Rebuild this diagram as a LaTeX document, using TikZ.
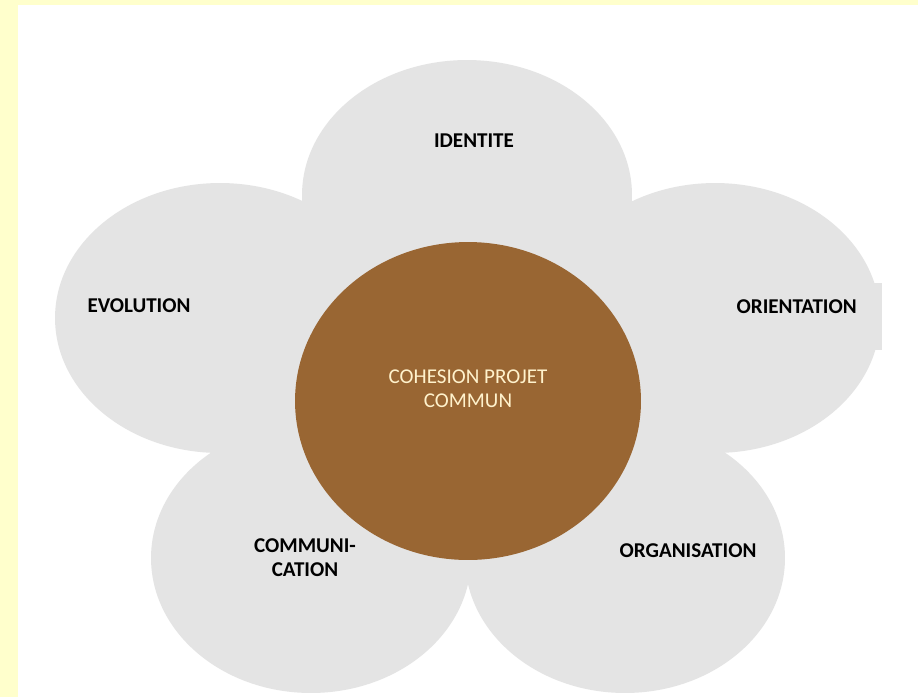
\documentclass[tikz,border=0pt]{standalone}
\usepackage{fontspec}
\setmainfont{Carlito}
\usetikzlibrary{shapes.geometric}
\definecolor{petal}{HTML}{E4E4E4}
\definecolor{coeur}{HTML}{996633}
\definecolor{cream}{HTML}{FFF2CC}
\definecolor{frame}{HTML}{FFFFCC}

\begin{document}
\begin{tikzpicture}[x=0.02cm, y=-0.02cm,
	petal/.style={shape=ellipse, fill=petal, inner sep=0pt, minimum width=6.6cm, minimum height=5.4cm},
	tag/.style={font=\fontsize{12}{13.5}\selectfont\bfseries, align=center, inner sep=1pt}]
	\fill[frame] (0, 0) rectangle (918, 697);
	\fill[white] (18, 5) rectangle (918, 697);
	\useasboundingbox (0, 0) rectangle (918, 697);

	\node[petal] (identite) at (467, 195)      {};
	\node[petal] (evolution) at (220, 318)     {};
	\node[petal] (orientation) at (715, 318)   {};
	\node[petal, minimum width=6.4cm] (communication) at (311, 558) {};
	\node[petal, minimum width=6.4cm] (organisation) at (625, 558)  {};

	\node[shape=ellipse, fill=coeur, inner sep=0pt, minimum width=6.92cm, minimum height=6.36cm] (centre) at (468, 401) {};

	\node[tag] (t-identite) at (474, 141)  {IDENTITE};
	\node[tag] (t-evolution) at (139, 306) {EVOLUTION};
	\node[tag, fill=petal, anchor=east, inner ysep=0pt, minimum width=3.4cm, text height=0.6cm, text depth=0.74cm] (t-orientation) at (882, 316.5) {ORIENTATION};
	\node[tag] (t-communication) at (305, 558) {COMMUNI-\\CATION};
	\node[tag] (t-organisation) at (688, 551)  {ORGANISATION};
	\node[tag, font=\fontsize{12}{13.5}\selectfont, text=cream] (t-centre) at (468, 389) {COHESION PROJET\\COMMUN};
\end{tikzpicture}
\end{document}
